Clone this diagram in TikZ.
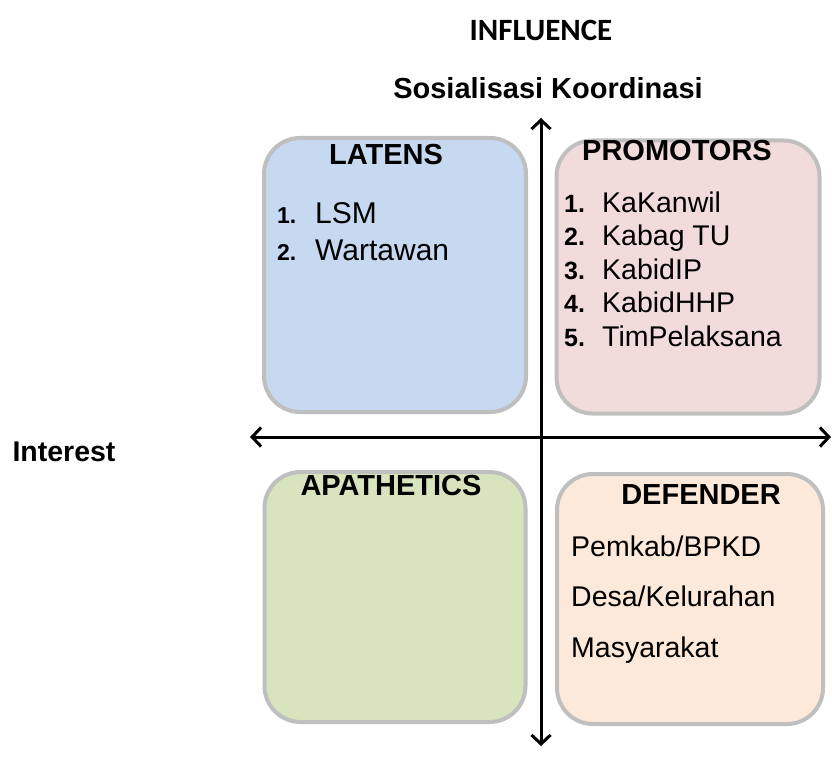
\documentclass[tikz,border=0pt]{standalone}
\usepackage{fontspec}
\setmainfont{Liberation Sans}
\newfontfamily\calibri{Carlito}
\usetikzlibrary{positioning,arrows.meta}
\definecolor{biru}{HTML}{C6D9F1}
\definecolor{merah}{HTML}{F2DCDB}
\definecolor{hijau}{HTML}{D7E4BD}
\definecolor{jingga}{HTML}{FDE9D9}
\definecolor{abu}{HTML}{BFBFBF}

\begin{document}
\begin{tikzpicture}[x=1pt, y=-1pt, >={Straight Barb[length=9pt, width=19pt]},
      kotak/.style={draw=abu, line width=4pt, rounded corners=36pt, inner sep=0pt},
      judul/.style={font=\fontsize{29}{34}\selectfont\bfseries, inner sep=0pt},
      nomor/.style={font=\fontsize{25}{30}\selectfont\bfseries, anchor=base west, inner sep=0pt},
      isi/.style={font=\fontsize{28.5}{34}\selectfont, anchor=base west, inner sep=0pt},
      sumbu/.style={line width=3pt, <->}]
    \useasboundingbox (0,0) rectangle (832,762);
    % kuadran
    \node[kotak, fill=biru, minimum width=262pt, minimum height=274pt] (latens) at (395,275) {};
    \node[kotak, fill=merah, minimum width=263pt, minimum height=273pt] (promotors) at (688,277) {};
    \node[kotak, fill=hijau, minimum width=261pt, minimum height=250pt] (apathetics) at (395,597) {};
    \node[kotak, fill=jingga, minimum width=266pt, minimum height=250pt] (defender) at (690,599) {};
    % sumbu
    \coordinate (atas) at (541,118);
    \coordinate (bawah) at (541,746);
    \coordinate (kiri) at (250,437);
    \coordinate (kanan) at (831,437);
    \draw[sumbu] (bawah) -- (atas);
    \draw[sumbu] (kiri) -- (kanan);
    % judul sumbu
    \node[font=\calibri\fontsize{31}{36}\selectfont\bfseries] (influence) at (541,30) {INFLUENCE};
    \node[font=\fontsize{29}{34}\selectfont\bfseries] (sosialisasi) at (548,88) {Sosialisasi Koordinasi};
    \node[font=\fontsize{28.5}{34}\selectfont\bfseries, inner sep=0pt] (interest) at (64,452) {Interest};
    % LATENS
    \node[judul] (latensJ) at (386,155) {LATENS};
    \node[nomor, font=\fontsize{23}{28}\selectfont\bfseries] (l1) at (277,223) {1.};
    \node[isi, font=\fontsize{30}{36}\selectfont] (lsm) at (315,223) {LSM};
    \node[nomor, font=\fontsize{23}{28}\selectfont\bfseries] (l2) at (277,260) {2.};
    \node[isi, font=\fontsize{30}{36}\selectfont] (wartawan) at (315,260) {Wartawan};
    % PROMOTORS
    \node[judul] (promotorsJ) at (677,151) {PROMOTORS};
    \node[nomor] (p1) at (564,212) {1.};
    \node[isi] (kakanwil) at (602,212) {KaKanwil};
    \node[nomor] (p2) at (564,245.5) {2.};
    \node[isi] (kabagtu) at (602,245.5) {Kabag TU};
    \node[nomor] (p3) at (564,279) {3.};
    \node[isi] (kabidip) at (602,279) {KabidIP};
    \node[nomor] (p4) at (564,312.5) {4.};
    \node[isi] (kabidhhp) at (602,312.5) {KabidHHP};
    \node[nomor] (p5) at (564,346) {5.};
    \node[isi] (timpelaksana) at (602,346) {TimPelaksana};
    % APATHETICS
    \node[judul] (apatheticsJ) at (391,486) {APATHETICS};
    % DEFENDER
    \node[judul] (defenderJ) at (701,495) {DEFENDER};
    \node[isi] (pemkab) at (571,556) {Pemkab/BPKD};
    \node[isi] (desa) at (571,606) {Desa/Kelurahan};
    \node[isi] (masyarakat) at (571,657) {Masyarakat};
  \end{tikzpicture}
\end{document}
